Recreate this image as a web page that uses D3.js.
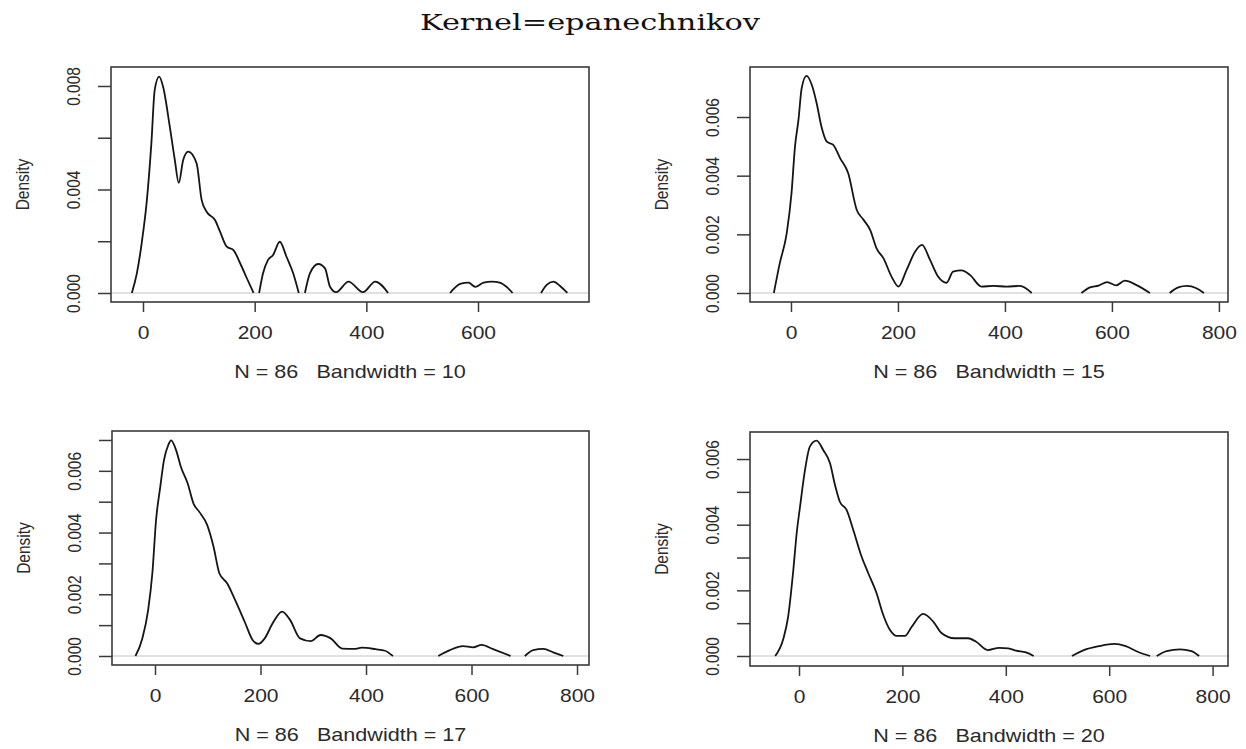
<!DOCTYPE html>
<html>
<head>
<meta charset="utf-8">
<script src="https://cdn.jsdelivr.net/npm/d3@7"></script>
<style>
  html, body { margin: 0; padding: 0; background: #fff; }
  svg { display: block; }
  .lbl { font-family: "Liberation Sans", Arial, sans-serif; fill: #2a2a2a; }
</style>
</head>
<body>
<svg id="chart" width="1246" height="749"></svg>
<script>
// ---------------- data ----------------
const chartTitle = "Kernel=epanechnikov";
const sampleN = 86;
const bandwidths = [10, 15, 17, 20];

// density estimates (x, density), one pair of arrays per bandwidth
const densX10 = [-20, -11, -2, 7, 15, 21, 29, 36, 48, 57, 64, 72, 81, 96, 105, 114, 129, 138, 150, 162, 174, 186, 198, 208, 215, 224, 233, 245, 257, 269, 279, 290, 299, 314, 326, 335, 346, 368, 394, 416, 439, 550, 568, 583, 595, 610, 625, 639, 651, 662, 713, 723, 735, 747, 760];
const densY10 = [0, .00076, .00198, .0036, .00578, .00785, .00836, .00797, .00643, .00514, .00426, .00514, .00546, .00501, .0036, .00314, .00282, .00237, .00179, .00166, .00115, .00057, 0, 0, .00076, .00128, .00147, .00198, .0014, .00076, 0, 0, .00076, .00112, .00095, .00024, .00003, .00044, .00003, .00044, 0, 0, .00035, .0004, .00024, .0004, .00044, .0004, .00024, 0, 0, .00031, .00044, .00027, 0];

const densX15 = [-32, -21, -8, 1, 7.5, 14, 20, 29, 39, 48, 57, 67, 79, 92, 107, 123, 135, 148, 160, 173, 188, 201, 216, 232, 245, 260, 275, 291, 303, 319, 335, 356, 378, 403, 428, 450, 543, 559, 575, 591, 608, 624, 646, 671, 708, 724, 740, 758, 772];
const densY15 = [0, .00101, .00203, .0034, .00499, .0059, .00698, .0074, .00709, .00647, .00567, .00516, .00505, .00459, .00408, .00283, .00251, .00215, .00152, .00118, .00056, .00022, .00078, .00141, .00164, .00113, .00056, .00035, .00073, .00077, .00061, .00022, .00024, .00022, .00024, 0, 0, .00019, .00025, .00037, .00026, .00042, .00027, 0, 0, .00019, .00024, .00016, 0];

const densX17 = [-37, -24, -13, -5, 2, 10, 17, 25, 30.5, 40, 49, 62, 73, 84, 99, 111, 122, 137, 152, 170, 185, 196, 208, 223, 241, 256, 275, 295, 314, 333, 355, 378, 392, 418, 436, 451, 537, 559, 584, 603, 619, 641, 674, 701, 717, 736, 755, 774];
const densY17 = [0, .00057, .00149, .00268, .0044, .00548, .00635, .00683, .00699, .00667, .00613, .00559, .00494, .00467, .00424, .00354, .00268, .00235, .00181, .00111, .00052, .00039, .00057, .00106, .00144, .00117, .00057, .00048, .00068, .00057, .00024, .00023, .00027, .00022, .00017, 0, 0, .00019, .00032, .00028, .00036, .00022, 0, 0, .00019, .00023, .00012, 0];

const densX20 = [-46, -30, -21, -11, -4.5, 2, 11.6, 21, 34, 47, 60, 69.6, 79, 92, 105, 121, 134, 150, 163, 176, 189, 205, 218, 240, 260, 275, 301, 327, 342, 365, 387, 405, 420, 439, 454, 528, 551, 580, 610, 632, 655, 679, 692, 711, 737, 759, 774];
const densY20 = [0, .00054, .0012, .00262, .00374, .00455, .00567, .00638, .00656, .00627, .00587, .00521, .0047, .00445, .00384, .00303, .00252, .00191, .00125, .00079, .00061, .00061, .00089, .00128, .00104, .00071, .00054, .00054, .00044, .00018, .00025, .00023, .00016, .00011, 0, 0, .00018, .0003, .00037, .0003, .00013, 0, 0, .00015, .0002, .00015, 0];

// axis limits and ticks
const xLimits = [[-57.3, 798.8], [-76.6, 817], [-81.5, 822.7], [-94.8, 829.8]];
const yLimits = [[-0.000348, 0.008734], [-0.000307, 0.007705], [-0.000292, 0.007291], [-0.000305, 0.006824]];
const xTicks = [[0, 200, 400, 600], [0, 200, 400, 600, 800], [0, 200, 400, 600, 800], [0, 200, 400, 600, 800]];
const yTicks = [
  [0, 0.002, 0.004, 0.006, 0.008],
  [0, 0.002, 0.004, 0.006],
  [0, 0.001, 0.002, 0.003, 0.004, 0.005, 0.006, 0.007],
  [0, 0.001, 0.002, 0.003, 0.004, 0.005, 0.006]
];
const yLabelled = [
  [0, 0.004, 0.008],
  [0, 0.002, 0.004, 0.006],
  [0, 0.002, 0.004, 0.006],
  [0, 0.002, 0.004, 0.006]
];

// ---------------- layout ----------------
const boxes = [
  {x: 111, y: 67, w: 478, h: 235},
  {x: 750, y: 67, w: 478, h: 235},
  {x: 112, y: 431, w: 477, h: 234},
  {x: 750, y: 432, w: 478, h: 234}
];
const series = [[densX10, densY10], [densX15, densY15], [densX17, densY17], [densX20, densY20]];
const SX = 1.2; // horizontal stretch of the reference picture

// split a curve into pieces, dropping the flat runs that lie on zero
function pieces(xs, ys) {
  const out = [];
  let cur = [];
  xs.forEach((v, k) => {
    if (k > 0 && ys[k] === 0 && ys[k - 1] === 0) {
      if (cur.length > 1) out.push(cur);
      cur = [];
    }
    cur.push([v, ys[k]]);
  });
  if (cur.length > 1) out.push(cur);
  return out;
}

const svg = d3.select("#chart");

svg.append("text")
  .attr("x", 590).attr("y", 30)
  .attr("text-anchor", "middle")
  .attr("textLength", 340)
  .attr("lengthAdjust", "spacingAndGlyphs")
  .style("font-family", "'DejaVu Serif', 'Liberation Serif', serif")
  .style("font-size", "23px")
  .style("fill", "#111")
  .text(chartTitle);

boxes.forEach((b, i) => {
  const g = svg.append("g").attr("transform", `translate(${b.x},${b.y})`);
  const x = d3.scaleLinear().domain(xLimits[i]).range([0, b.w]);
  const y = d3.scaleLinear().domain(yLimits[i]).range([b.h, 0]);

  // zero line
  g.append("line")
    .attr("x1", 0).attr("x2", b.w)
    .attr("y1", y(0)).attr("y2", y(0))
    .attr("stroke", "#c4c4c4").attr("stroke-width", 1.2);

  // curve
  const line = d3.line().x(d => x(d[0])).y(d => y(d[1])).curve(d3.curveMonotoneX);
  g.selectAll("path.dens").data(pieces(series[i][0], series[i][1])).join("path")
    .attr("class", "dens")
    .attr("d", line)
    .attr("fill", "none")
    .attr("stroke", "#151515")
    .attr("stroke-width", 1.8)
    .attr("stroke-linejoin", "round");

  // x axis
  const xa = g.append("g").attr("transform", `translate(0,${b.h})`)
    .call(d3.axisBottom(x).tickValues(xTicks[i]).tickSize(10).tickSizeOuter(0).tickFormat(d3.format("d")));
  xa.select(".domain").remove();
  xa.selectAll(".tick line").attr("stroke", "#3a3a3a").attr("stroke-width", 1.5);
  xa.selectAll(".tick text")
    .attr("class", "lbl")
    .attr("y", 0).attr("dy", 0)
    .attr("transform", `translate(0,37) scale(${SX},1)`)
    .style("font-size", "17.5px");

  // y axis
  const lab = new Set(yLabelled[i].map(v => v.toFixed(3)));
  const ya = g.append("g")
    .call(d3.axisLeft(y).tickValues(yTicks[i]).tickSize(13).tickSizeOuter(0)
      .tickFormat(v => lab.has(v.toFixed(3)) ? v.toFixed(3) : ""));
  ya.select(".domain").remove();
  ya.selectAll(".tick line").attr("stroke", "#3a3a3a").attr("stroke-width", 1.5);
  ya.selectAll(".tick text")
    .attr("class", "lbl")
    .attr("x", 0).attr("y", 0).attr("dy", 0)
    .attr("text-anchor", "middle")
    .attr("transform", `translate(-31,0) scale(${SX},1) rotate(-90)`)
    .style("font-size", "15.5px");

  // box
  g.append("rect")
    .attr("x", 0).attr("y", 0).attr("width", b.w).attr("height", b.h)
    .attr("fill", "none").attr("stroke", "#3a3a3a").attr("stroke-width", 1.6);

  // y title
  g.append("text").attr("class", "lbl")
    .attr("text-anchor", "middle")
    .attr("transform", `translate(-82,${b.h / 2}) scale(${SX},1) rotate(-90)`)
    .style("font-size", "15.5px")
    .text("Density");

  // sub title
  g.append("text").attr("class", "lbl")
    .attr("text-anchor", "middle")
    .attr("transform", `translate(${b.w / 2},${b.h + 76}) scale(${SX},1)`)
    .style("font-size", "18px")
    .style("white-space", "pre")
    .attr("xml:space", "preserve")
    .text(`N = ${sampleN}   Bandwidth = ${bandwidths[i]}`);
});
</script>
</body>
</html>
